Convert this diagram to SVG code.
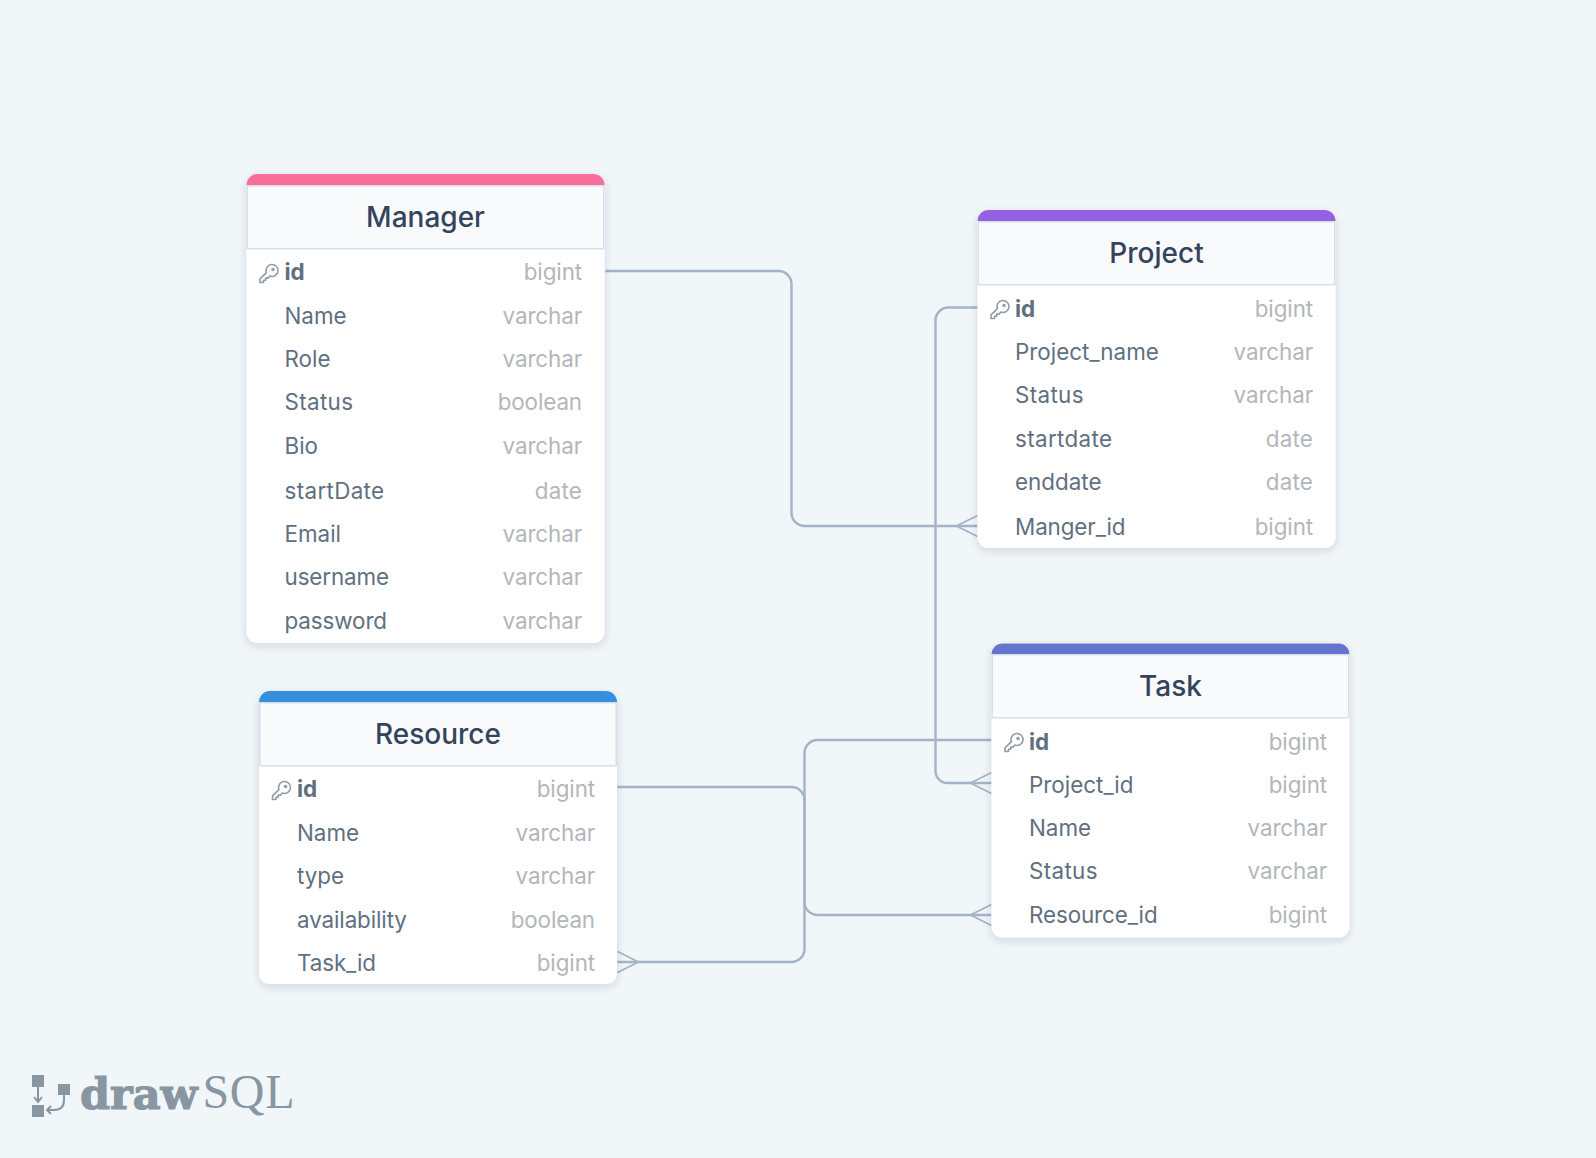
<svg xmlns="http://www.w3.org/2000/svg" width="1596" height="1158" viewBox="0 0 1596 1158">
<style>
text{font-family:Inter,"Noto Sans",sans-serif}
.card{fill:#fff;filter:url(#sh)}
.head{fill:#f9fafc;stroke:#d6e0ea;stroke-width:1.500}
.title{font-size:28px;font-weight:500;fill:#33445c;text-anchor:middle}
.n{font-size:22.4px;fill:#616f7f}
.pk{font-size:22.4px;font-weight:700;fill:#616f7f}
.t{font-size:22.4px;fill:#b3b6ba;text-anchor:end;letter-spacing:-.1px}
.w{letter-spacing:.35px}
.key{fill:none;stroke:#8f9cab;stroke-width:1.600;stroke-linejoin:round}
.c{fill:none;stroke:#a5b3c7;stroke-width:2.400}
.cf{fill:none;stroke:#a5b3c7;stroke-width:1.800}
.lg{fill:#8896a2}
</style>
<defs>
<filter id="sh" x="-10%" y="-10%" width="120%" height="120%"><feDropShadow dx="0" dy="3" stdDeviation="4" flood-color="#2d3748" flood-opacity="0.15"/></filter>
<g id="keyicon"><path class="key" d="M-2.600 -0.900A6 6 0 1 1 0.900 2.600l-2 2h-2.200v2.200h-2.200v2.200h-3.500v-3.600z"/><circle cx="4" cy="-4" r="1" class="key"/></g>
</defs>
<rect width="1596" height="1158" fill="#f1f6f9"/>
<g id="connectors" transform="translate(-0.5 0)">
<path class="c" d="M606 271H779a13 13 0 0 1 13 13V513a13 13 0 0 0 13 13H978"/>
<path class="cf" d="M978 515.500L957 526L978 536.500"/>
<path class="c" d="M978 307.500H949a13 13 0 0 0 -13 13V771a12 12 0 0 0 12 12H992"/>
<path class="cf" d="M992 772.500L971 783L992 793.500"/>
<path class="c" d="M992 740H818a13 13 0 0 0 -13 13V949a13 13 0 0 1 -13 13H618"/>
<path class="cf" d="M618 951.500L639 962L618 972.500"/>
<path class="c" d="M618 787H792a13 13 0 0 1 13 13V902a13 13 0 0 0 13 13H992"/>
<path class="cf" d="M992 904.500L971 915L992 925.500"/>
</g>
<g id="table-manager" transform="translate(-0.5 0)">
<rect class="card" x="247" y="174" width="358" height="469" rx="11"/>
<path fill="#f76e9b" d="M247 185a11 11 0 0 1 11 -11h336a11 11 0 0 1 11 11z"/>
<rect class="head" x="247.750" y="185.750" width="356.500" height="63"/>
<text class="title" x="426" y="227">Manager</text>
<use href="#keyicon" x="269.500" y="273.500"/>
<text class="pk" x="285" y="280">id</text><text class="t" x="582.500" y="280">bigint</text>
<text class="n" x="285" y="324">Name</text><text class="t" x="582.500" y="324">varchar</text>
<text class="n" x="285" y="367">Role</text><text class="t" x="582.500" y="367">varchar</text>
<text class="n w" x="285" y="410">Status</text><text class="t" x="582.500" y="410">boolean</text>
<text class="n" x="285" y="454">Bio</text><text class="t" x="582.500" y="454">varchar</text>
<text class="n w" x="285" y="499">startDate</text><text class="t" x="582.500" y="499" style="letter-spacing:.2px">date</text>
<text class="n" x="285" y="542">Email</text><text class="t" x="582.500" y="542">varchar</text>
<text class="n" x="285" y="585" style="letter-spacing:-.1px">username</text><text class="t" x="582.500" y="585">varchar</text>
<text class="n" x="285" y="629" style="letter-spacing:-.1px">password</text><text class="t" x="582.500" y="629">varchar</text>
</g>
<g id="table-project" transform="translate(-0.5 0)">
<rect class="card" x="978" y="210" width="358" height="338" rx="11"/>
<path fill="#9561e2" d="M978 221a11 11 0 0 1 11 -11h336a11 11 0 0 1 11 11z"/>
<rect class="head" x="978.750" y="221.750" width="356.500" height="63"/>
<text class="title" x="1157" y="263">Project</text>
<use href="#keyicon" x="1000.500" y="309.500"/>
<text class="pk" x="1015.500" y="317">id</text><text class="t" x="1313.500" y="317">bigint</text>
<text class="n" x="1015.500" y="360">Project_name</text><text class="t" x="1313.500" y="360">varchar</text>
<text class="n w" x="1015.500" y="403">Status</text><text class="t" x="1313.500" y="403">varchar</text>
<text class="n w" x="1015.500" y="447">startdate</text><text class="t" x="1313.500" y="447" style="letter-spacing:.2px">date</text>
<text class="n" x="1015.500" y="490">enddate</text><text class="t" x="1313.500" y="490" style="letter-spacing:.2px">date</text>
<text class="n" x="1015.500" y="535" style="letter-spacing:-.1px">Manger_id</text><text class="t" x="1313.500" y="535">bigint</text>
</g>
<g id="table-task" transform="translate(-0.5 0)">
<rect class="card" x="992" y="643.500" width="358" height="294" rx="11"/>
<path fill="#6574cd" d="M992 654.500a11 11 0 0 1 11 -11h336a11 11 0 0 1 11 11z"/>
<rect class="head" x="992.750" y="654.750" width="356.500" height="63"/>
<text class="title" x="1171" y="696">Task</text>
<use href="#keyicon" x="1014.500" y="742.500"/>
<text class="pk" x="1029.500" y="749.500">id</text><text class="t" x="1327.500" y="749.500">bigint</text>
<text class="n" x="1029.500" y="793">Project_id</text><text class="t" x="1327.500" y="793">bigint</text>
<text class="n" x="1029.500" y="836">Name</text><text class="t" x="1327.500" y="836">varchar</text>
<text class="n w" x="1029.500" y="879">Status</text><text class="t" x="1327.500" y="879">varchar</text>
<text class="n" x="1029.500" y="923" style="letter-spacing:-.1px">Resource_id</text><text class="t" x="1327.500" y="923">bigint</text>
</g>
<g id="table-resource">
<rect class="card" x="259" y="691" width="358" height="293" rx="11"/>
<path fill="#3490dc" d="M259 702a11 11 0 0 1 11 -11h336a11 11 0 0 1 11 11z"/>
<rect class="head" x="259.750" y="702.750" width="356.500" height="63"/>
<text class="title" x="438" y="744">Resource</text>
<use href="#keyicon" x="281.500" y="790.500"/>
<text class="pk" x="297" y="797">id</text><text class="t" x="595" y="797">bigint</text>
<text class="n" x="297" y="840.500">Name</text><text class="t" x="595" y="840.500">varchar</text>
<text class="n" x="297" y="884">type</text><text class="t" x="595" y="884">varchar</text>
<text class="n" x="297" y="927.500" style="letter-spacing:-.1px">availability</text><text class="t" x="595" y="927.500">boolean</text>
<text class="n" x="297" y="970.500" style="letter-spacing:-.1px">Task_id</text><text class="t" x="595" y="970.500">bigint</text>
</g>
<g id="logo">
<rect class="lg" x="32" y="1075" width="12" height="12"/>
<rect class="lg" x="32" y="1105" width="12" height="12"/>
<rect class="lg" x="58" y="1084" width="12" height="11"/>
<path d="M38 1087V1101M34 1097L38 1102L42 1097M64 1095V1100Q64 1110 54 1110H47M51 1106L47 1110L51 1114" fill="none" stroke="#8896a2" stroke-width="2"/>
<text x="80" y="1109" style="font-family:'DejaVu Serif',serif;font-weight:700;font-size:43px" fill="#8896a2" stroke="#8896a2" stroke-width="1.200">draw</text>
<text x="202.500" y="1108" style="font-family:'Liberation Serif',serif;font-size:48px" fill="#8896a2" textLength="92">SQL</text>
</g>
</svg>
